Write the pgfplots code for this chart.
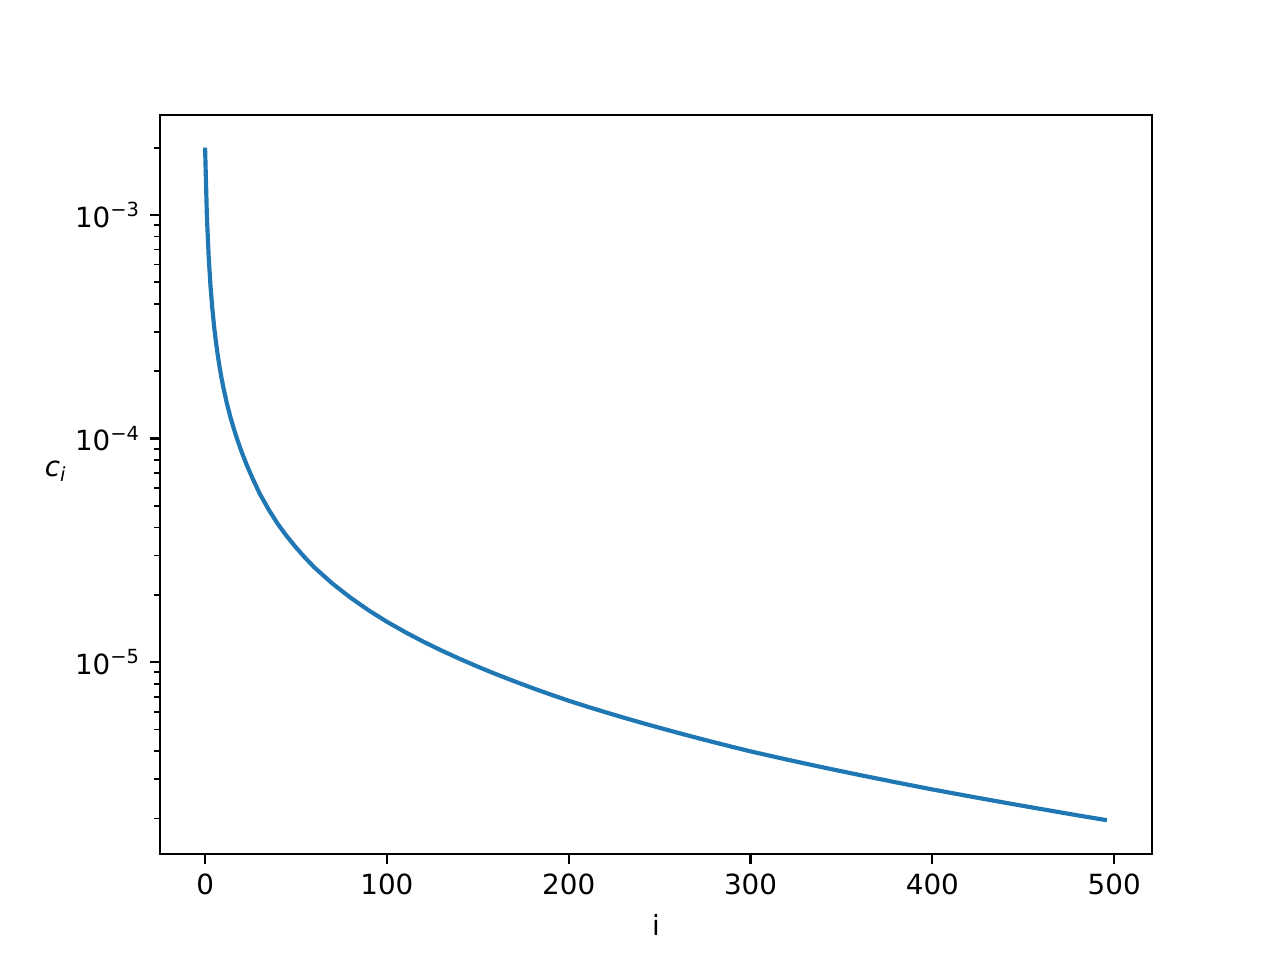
\documentclass[border=0pt]{standalone}
\usepackage{fontspec}
\setmainfont{DejaVu Sans}
\usepackage{pgfplots}
\pgfplotsset{compat=1.18}
\definecolor{mplblue}{HTML}{1F77B4}
\begin{document}
\begin{tikzpicture}[x=1pt,y=1pt]
\path[use as bounding box] (0,0) rectangle (460.8,345.6);
\begin{axis}[
  at={(57.6pt,38.16pt)}, anchor=south west,
  width=357.12pt, height=266.04pt, scale only axis,
  ymode=log,
  xmin=-24.8, xmax=520.8,
  ymin=1.385e-6, ymax=2.8e-3,
  xtick={0,100,200,300,400,500},
  ytick={1e-5,1e-4,1e-3},
  yticklabels={10\textsuperscript{−5},10\textsuperscript{−4},10\textsuperscript{−3}},
  minor ytick={2e-6,3e-6,4e-6,5e-6,6e-6,7e-6,8e-6,9e-6,2e-5,3e-5,4e-5,5e-5,6e-5,7e-5,8e-5,9e-5,2e-4,3e-4,4e-4,5e-4,6e-4,7e-4,8e-4,9e-4,2e-3},
  tick align=outside,
  tick pos=left,
  major tick length=3.5pt, minor tick length=2pt,
  major tick style={black, line width=0.8pt},
  minor tick style={black, line width=0.6pt},
  axis line style={line width=0.8pt},
  /pgf/number format/assume math mode=true,
  ticklabel style={font=\fontsize{10}{12}\selectfont},
  xlabel={i}, ylabel={\textit{c}\textsubscript{\textit{i}}},
  label style={font=\fontsize{10}{12}\selectfont},
  xlabel style={at={(axis description cs:0.5,-0.096)}, anchor=center},
  ylabel style={rotate=-90, at={(axis description cs:-0.105,0.518)}, anchor=center},
]
\addplot[color=mplblue, line width=1.5pt, line join=round] coordinates {
(0,2.0e-3) (1,9.80e-4) (2,6.433e-4) (3,4.775e-4) (4,3.80e-4) (5,3.15e-4)
(6,2.693e-4) (7,2.35e-4) (8,2.083e-4) (9,1.872e-4) (10,1.70e-4) (12,1.4346e-4)
(14,1.2413e-4) (16,1.0929e-4) (18,9.737e-5) (20,8.762e-5) (23,7.583e-5)
(26,6.667e-5) (30,5.677e-5) (35,4.806e-5) (40,4.146e-5) (45,3.652e-5)
(50,3.255e-5) (55,2.929e-5) (60,2.656e-5) (70,2.246e-5) (80,1.941e-5)
(90,1.703e-5) (100,1.5149e-5) (110,1.3622e-5) (120,1.2347e-5) (130,1.1267e-5)
(140,1.034e-5) (150,9.536e-6) (160,8.832e-6) (170,8.211e-6) (180,7.657e-6)
(190,7.162e-6) (200,6.716e-6) (210,6.327e-6) (220,5.973e-6) (230,5.649e-6)
(240,5.353e-6) (250,5.080e-6) (260,4.828e-6) (270,4.594e-6) (280,4.377e-6)
(290,4.175e-6) (300,3.987e-6) (320,3.664e-6) (340,3.378e-6) (360,3.125e-6)
(380,2.898e-6) (400,2.693e-6) (420,2.513e-6) (440,2.349e-6) (460,2.200e-6)
(480,2.062e-6) (496,1.962e-6)
};
\end{axis}
\end{tikzpicture}
\end{document}
